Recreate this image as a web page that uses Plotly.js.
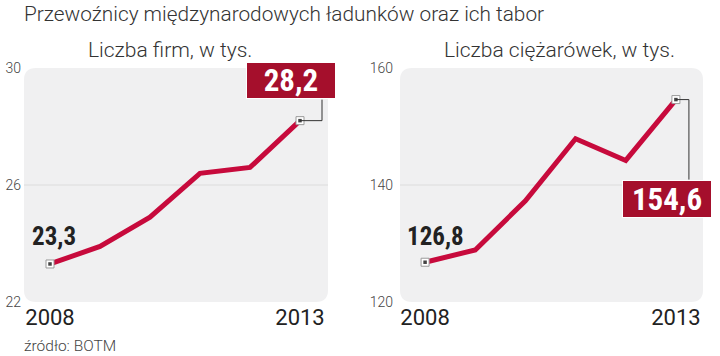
<!DOCTYPE html>
<html>
<head>
<meta charset="utf-8">
<script src="https://cdn.plot.ly/plotly-3.0.1.min.js"></script>
<style>html,body{margin:0;padding:0;background:#fff;}#chart{width:720px;height:356px;}</style>
</head>
<body>
<div id="chart"></div>
<script>
// ---- data ----
const years = [2008, 2009, 2010, 2011, 2012, 2013];
const firms = [23.3, 23.9, 24.9, 26.4, 26.6, 28.2];       // Liczba firm, w tys.
const trucks = [126.8, 128.9, 137.3, 147.9, 144.2, 154.6]; // Liczba ciężarówek, w tys.
const xTickVals = [2008, 2013];
const xTickText = ['2008', '2013'];
const firmsTicks = [22, 26, 30];
const trucksTicks = [120, 140, 160];
const mainTitle = 'Przewoźnicy międzynarodowych ładunków oraz ich tabor';
const leftTitle = 'Liczba firm, w tys.';
const rightTitle = 'Liczba ciężarówek, w tys.';
const sourceText = 'źródło: BOTM';

// ---- styling helpers ----
const W = 720, H = 356;
const px = x => x / W;
const py = y => 1 - y / H;
const LIGHT = {family: 'Roboto, "Open Sans", sans-serif', weight: 300};
const BOLDN = '"Roboto Condensed", Roboto, sans-serif';
const LINE = '#c70a3c';
const BOX = '#a50f2c';
const fmt = v => String(v).replace('.', ',');
const last = a => a[a.length - 1];

function roundRect(x0, y0, x1, y1, r) {
  const rx = r / W, ry = r / H;
  const L = px(x0), R = px(x1), T = py(y0), B = py(y1);
  return `M ${L + rx} ${T} L ${R - rx} ${T} Q ${R} ${T} ${R} ${T - ry} L ${R} ${B + ry} Q ${R} ${B} ${R - rx} ${B} L ${L + rx} ${B} Q ${L} ${B} ${L} ${B + ry} L ${L} ${T - ry} Q ${L} ${T} ${L + rx} ${T} Z`;
}

function series(vals, xa, ya) {
  const ends = {x: [years[0], last(years)], y: [vals[0], last(vals)]};
  return [
    {x: years, y: vals, xaxis: xa, yaxis: ya, mode: 'lines', type: 'scatter',
     line: {color: LINE, width: 5}, hoverinfo: 'skip', cliponaxis: false},
    {x: ends.x, y: ends.y, xaxis: xa, yaxis: ya, mode: 'markers', type: 'scatter',
     marker: {symbol: 'square', size: 8, color: '#ffffff', line: {color: '#9a9a9a', width: 1}},
     hoverinfo: 'skip', cliponaxis: false},
    {x: ends.x, y: ends.y, xaxis: xa, yaxis: ya, mode: 'markers', type: 'scatter',
     marker: {symbol: 'square', size: 3.5, color: '#444444'}, hoverinfo: 'skip', cliponaxis: false}
  ];
}

const data = [...series(firms, 'x', 'y'), ...series(trucks, 'x2', 'y2')];

const yDomain = [py(302), py(68)];
const yTickFont = {...LIGHT, size: 14, color: '#444'};
const xTickFont = {family: 'Roboto, sans-serif', size: 22, color: '#222'};

const layout = {
  width: W, height: H,
  margin: {l: 0, r: 0, t: 0, b: 0},
  paper_bgcolor: '#ffffff',
  plot_bgcolor: 'rgba(0,0,0,0)',
  showlegend: false,
  xaxis: {domain: [px(24), px(328)], range: [2007.48, 2013.56], tickvals: xTickVals, ticktext: xTickText,
          showgrid: false, zeroline: false, showline: false, ticks: '', tickfont: xTickFont, ticklabelstandoff: 0, fixedrange: true},
  yaxis: {domain: yDomain, range: [firmsTicks[0], last(firmsTicks)], tickvals: firmsTicks, ticktext: firmsTicks.map(String),
          showgrid: false, zeroline: false, showline: false, ticks: '', tickfont: yTickFont, ticklabelstandoff: 2, fixedrange: true},
  xaxis2: {domain: [px(400), px(703)], range: [2007.5, 2013.54], tickvals: xTickVals, ticktext: xTickText, anchor: 'y2',
          showgrid: false, zeroline: false, showline: false, ticks: '', tickfont: xTickFont, ticklabelstandoff: 0, fixedrange: true},
  yaxis2: {domain: yDomain, range: [trucksTicks[0], last(trucksTicks)], tickvals: trucksTicks, ticktext: trucksTicks.map(String), anchor: 'x2',
          showgrid: false, zeroline: false, showline: false, ticks: '', tickfont: yTickFont, ticklabelstandoff: 6, fixedrange: true},
  shapes: [
    {type: 'path', xref: 'paper', yref: 'paper', path: roundRect(24, 68, 328, 302, 12), fillcolor: '#f0f0f1', line: {width: 0}, layer: 'below'},
    {type: 'path', xref: 'paper', yref: 'paper', path: roundRect(400, 68, 703, 302, 12), fillcolor: '#f0f0f1', line: {width: 0}, layer: 'below'},
    {type: 'line', xref: 'x domain', yref: 'y', x0: 0, x1: 1, y0: firmsTicks[1], y1: firmsTicks[1], line: {color: '#dcdcdc', width: 1}, layer: 'below'},
    {type: 'line', xref: 'x2 domain', yref: 'y2', x0: 0, x1: 1, y0: trucksTicks[1], y1: trucksTicks[1], line: {color: '#dcdcdc', width: 1}, layer: 'below'},
    // connectors for callouts
    {type: 'line', xref: 'x', yref: 'y', xsizemode: 'pixel', ysizemode: 'pixel', xanchor: last(years), yanchor: last(firms),
     x0: 0, x1: 22, y0: 0, y1: 0, line: {color: '#333', width: 1}},
    {type: 'line', xref: 'x', yref: 'y', xsizemode: 'pixel', ysizemode: 'pixel', xanchor: last(years), yanchor: last(firms),
     x0: 22, x1: 22, y0: 0, y1: 21, line: {color: '#333', width: 1}},
    {type: 'line', xref: 'x2', yref: 'y2', xsizemode: 'pixel', ysizemode: 'pixel', xanchor: last(years), yanchor: last(trucks),
     x0: 0, x1: 13, y0: 0, y1: 0, line: {color: '#333', width: 1}},
    {type: 'line', xref: 'x2', yref: 'y2', xsizemode: 'pixel', ysizemode: 'pixel', xanchor: last(years), yanchor: last(trucks),
     x0: 13, x1: 13, y0: 0, y1: -80, line: {color: '#333', width: 1}}
  ],
  annotations: [
    {xref: 'paper', yref: 'paper', x: px(22), y: py(14), xanchor: 'left', yanchor: 'middle', showarrow: false,
     text: mainTitle, font: {...LIGHT, size: 20.8, color: '#333'}},
    {xref: 'paper', yref: 'paper', x: px(170), y: py(50), xanchor: 'center', yanchor: 'middle', showarrow: false,
     text: leftTitle, font: {...LIGHT, size: 21, color: '#333'}},
    {xref: 'paper', yref: 'paper', x: px(559), y: py(50), xanchor: 'center', yanchor: 'middle', showarrow: false,
     text: rightTitle, font: {...LIGHT, size: 21, color: '#333'}},
    {xref: 'paper', yref: 'paper', x: px(22), y: py(346), xanchor: 'left', yanchor: 'middle', showarrow: false,
     text: sourceText, font: {...LIGHT, size: 15.5, color: '#444'}},
    // first-value labels
    {xref: 'x', yref: 'y', x: years[0], y: firms[0], xanchor: 'center', yanchor: 'middle', xshift: 4, yshift: 27, showarrow: false,
     text: fmt(firms[0]), font: {family: BOLDN, size: 25, weight: 700, color: '#222'}},
    {xref: 'x2', yref: 'y2', x: years[0], y: trucks[0], xanchor: 'center', yanchor: 'middle', xshift: 10, yshift: 26, showarrow: false,
     text: fmt(trucks[0]), font: {family: BOLDN, size: 25, weight: 700, color: '#222'}},
    // last-value callouts
    {xref: 'x', yref: 'y', x: last(years), y: last(firms), xanchor: 'center', yanchor: 'middle', xshift: -9, yshift: 40, showarrow: false,
     text: fmt(last(firms)), width: 88, height: 35, bgcolor: BOX, bordercolor: '#ffffff', borderwidth: 1, borderpad: 0,
     font: {family: BOLDN, size: 31, weight: 700, color: '#ffffff'}},
    {xref: 'x2', yref: 'y2', x: last(years), y: last(trucks), xanchor: 'center', yanchor: 'middle', xshift: -9, yshift: -99, showarrow: false,
     text: fmt(last(trucks)), width: 88, height: 36, bgcolor: BOX, bordercolor: '#ffffff', borderwidth: 1, borderpad: 0,
     font: {family: BOLDN, size: 31, weight: 700, color: '#ffffff'}}
  ]
};

Plotly.newPlot('chart', data, layout, {staticPlot: true, displayModeBar: false});
</script>
</body>
</html>
